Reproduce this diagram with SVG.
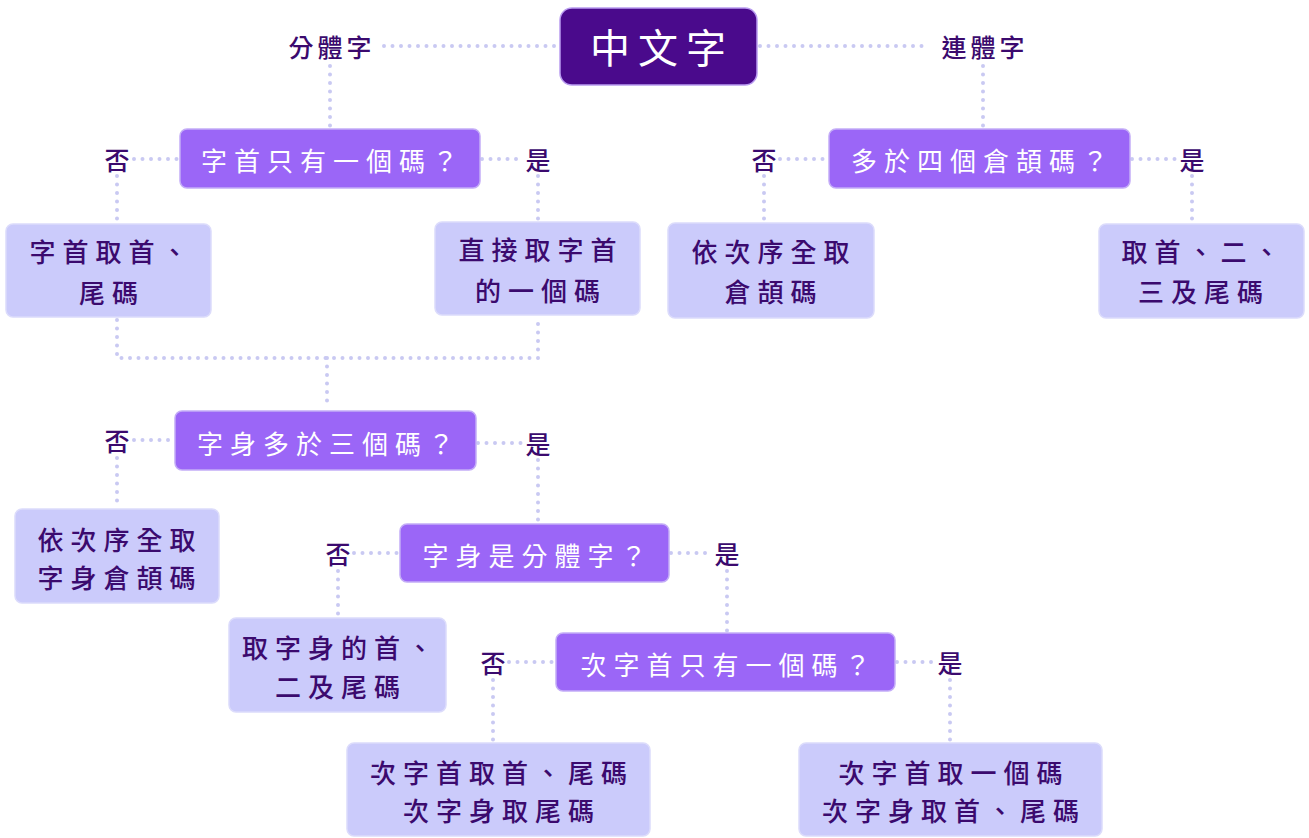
<svg xmlns="http://www.w3.org/2000/svg" width="1309" height="838" viewBox="0 0 1309 838">
<style>
.bg{fill:#ffffff}
.root rect{fill:#4a0a8c;stroke:#b99cf0;stroke-width:1.5}
.root text{fill:#ffffff;font-size:40px;letter-spacing:8px}
.dec rect{fill:#9b66f7;stroke:#c4adf7;stroke-width:1.5}
.dec text{fill:#ffffff;font-size:26px;letter-spacing:7px}
.leaf rect{fill:#cbcbfb;stroke:#dcdcfb;stroke-width:1.5}
.leaf text{fill:#3b0a6e;font-size:26px;letter-spacing:7px;font-weight:500}
.lbl text{fill:#3b0a6e;font-size:25px;font-weight:500}
.lbl text.w{letter-spacing:4px}
text{font-family:"Noto Sans CJK TC","Noto Sans CJK SC",sans-serif;text-anchor:middle;dominant-baseline:central}
.con path{fill:none;stroke:#c9c9f2;stroke-width:4;stroke-dasharray:0 8.5;stroke-linecap:round}
</style>
<rect class="bg" x="0" y="0" width="1309" height="838"/>
<g class="con" id="connectors">
<path d="M384 46 H558"/>
<path d="M760 46 H930"/>
<path d="M330 66 V128"/>
<path d="M983 66 V128"/>
<path d="M134 159 H178"/>
<path d="M482 159 H522"/>
<path d="M117 176 V222"/>
<path d="M538 176 V220"/>
<path d="M780 159 H827"/>
<path d="M1132 159 H1176"/>
<path d="M764 176 V222"/>
<path d="M1192 176 V222"/>
<path d="M117 320 V358 H538 V318"/>
<path d="M327 358 V409"/>
<path d="M134 440 H173"/>
<path d="M478 443 H522"/>
<path d="M117 458 V507"/>
<path d="M538 460 V522"/>
<path d="M354 553 H398"/>
<path d="M671 553 H711"/>
<path d="M338 571 V616"/>
<path d="M727 571 V631"/>
<path d="M509 662 H554"/>
<path d="M897 662 H934"/>
<path d="M493 680 V741"/>
<path d="M950 680 V741"/>
</g>
<g class="root" id="n-root"><rect x="560" y="8" width="197" height="77" rx="12"/><text x="662" y="46">中文字</text></g>
<g class="lbl" id="l-fenti"><text class="w" x="332" y="46">分體字</text></g>
<g class="lbl" id="l-lianti"><text class="w" x="985" y="46">連體字</text></g>
<g class="dec" id="d1"><rect x="180" y="129" width="300" height="59" rx="7"/><text x="333" y="159">字首只有一個碼？</text></g>
<g class="lbl" id="l-d1-no"><text x="117" y="159">否</text></g>
<g class="lbl" id="l-d1-yes"><text x="538" y="159">是</text></g>
<g class="leaf" id="a1"><rect x="6" y="224" width="205" height="93" rx="7"/><text x="112" y="250">字首取首、</text><text x="112" y="291">尾碼</text></g>
<g class="leaf" id="a2"><rect x="435" y="222" width="205" height="93" rx="7"/><text x="541" y="248">直接取字首</text><text x="541" y="289">的一個碼</text></g>
<g class="dec" id="d2"><rect x="829" y="129" width="301" height="59" rx="7"/><text x="983" y="159">多於四個倉頡碼？</text></g>
<g class="lbl" id="l-d2-no"><text x="764" y="159">否</text></g>
<g class="lbl" id="l-d2-yes"><text x="1192" y="159">是</text></g>
<g class="leaf" id="a3"><rect x="668" y="223" width="206" height="95" rx="7"/><text x="774" y="250">依次序全取</text><text x="774" y="290">倉頡碼</text></g>
<g class="leaf" id="a4"><rect x="1099" y="224" width="205" height="94" rx="7"/><text x="1204" y="250">取首、二、</text><text x="1204" y="290">三及尾碼</text></g>
<g class="dec" id="d3"><rect x="175" y="411" width="301" height="59" rx="7"/><text x="329" y="442">字身多於三個碼？</text></g>
<g class="lbl" id="l-d3-no"><text x="117" y="440">否</text></g>
<g class="lbl" id="l-d3-yes"><text x="538" y="443">是</text></g>
<g class="leaf" id="a5"><rect x="15" y="509" width="204" height="94" rx="7"/><text x="120" y="538">依次序全取</text><text x="120" y="576">字身倉頡碼</text></g>
<g class="dec" id="d4"><rect x="400" y="524" width="269" height="58" rx="7"/><text x="538" y="554">字身是分體字？</text></g>
<g class="lbl" id="l-d4-no"><text x="338" y="553">否</text></g>
<g class="lbl" id="l-d4-yes"><text x="727" y="553">是</text></g>
<g class="leaf" id="a6"><rect x="229" y="618" width="217" height="94" rx="7"/><text x="341" y="646">取字身的首、</text><text x="341" y="685">二及尾碼</text></g>
<g class="dec" id="d5"><rect x="556" y="633" width="339" height="58" rx="7"/><text x="729" y="663">次字首只有一個碼？</text></g>
<g class="lbl" id="l-d5-no"><text x="493" y="662">否</text></g>
<g class="lbl" id="l-d5-yes"><text x="950" y="662">是</text></g>
<g class="leaf" id="a7"><rect x="347" y="743" width="303" height="93" rx="7"/><text x="502" y="771">次字首取首、尾碼</text><text x="502" y="809">次字身取尾碼</text></g>
<g class="leaf" id="a8"><rect x="799" y="743" width="303" height="93" rx="7"/><text x="954" y="771">次字首取一個碼</text><text x="954" y="809">次字身取首、尾碼</text></g>
</svg>
